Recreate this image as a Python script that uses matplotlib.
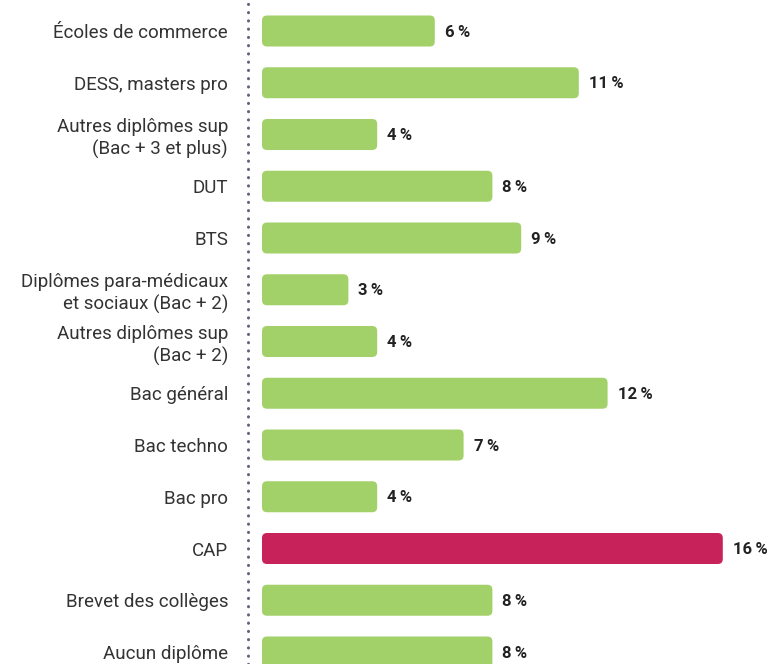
import matplotlib
matplotlib.use("Agg")
import matplotlib.pyplot as plt
from matplotlib.patches import FancyBboxPatch

categories = [
    "Écoles de commerce",
    "DESS, masters pro",
    "Autres diplômes sup\n(Bac + 3 et plus)",
    "DUT",
    "BTS",
    "Diplômes para-médicaux\net sociaux (Bac + 2)",
    "Autres diplômes sup\n(Bac + 2)",
    "Bac général",
    "Bac techno",
    "Bac pro",
    "CAP",
    "Brevet des collèges",
    "Aucun diplôme",
]
values = [6, 11, 4, 8, 9, 3, 4, 12, 7, 4, 16, 8, 8]
highlight = "CAP"

GREEN = "#a2d16a"
RED = "#c8225a"
TEXT = "#333333"

plt.rcParams['font.family'] = ['Roboto', 'DejaVu Sans']

W, H = 773, 664
fig = plt.figure(figsize=(W / 100, H / 100), dpi=100)
x0_px = 262
px_per_unit = 28.8
row_px = 51.75
first_center = 31
ax = fig.add_axes([x0_px / W, 0, (W - x0_px) / W, 1])
ax.set_xlim(0, (W - x0_px) / px_per_unit)
top = -first_center / row_px
bottom = (H - first_center) / row_px
ax.set_ylim(bottom, top)

bar_h = 31 / row_px
aspect = px_per_unit / row_px
r = 5 / px_per_unit
for i, (c, v) in enumerate(zip(categories, values)):
    col = RED if c == highlight else GREEN
    p = FancyBboxPatch((0, i - bar_h / 2), v, bar_h,
                       boxstyle=f"round,pad=0,rounding_size={r}",
                       mutation_aspect=aspect, facecolor=col, edgecolor="none")
    ax.add_patch(p)
    ax.text(v + 10 / px_per_unit, i + 0.02, f"{v}\u2009%", ha="left", va="center",
            fontsize=12, fontweight="bold", color="#222222")

ax.set_yticks(range(len(categories)))
ax.set_yticklabels(categories, fontsize=13.5, color=TEXT, linespacing=1.25)
ax.tick_params(axis="y", length=0, pad=34 * 0.72)
ax.set_xticks([])
for s in ax.spines.values():
    s.set_visible(False)

ax.axvline(-14 / px_per_unit, color="#5f6478", linestyle=(0, (0.05, 2.65)),
           linewidth=2.2, clip_on=False, dash_capstyle="round")

fig.savefig("out.png", dpi=100)
